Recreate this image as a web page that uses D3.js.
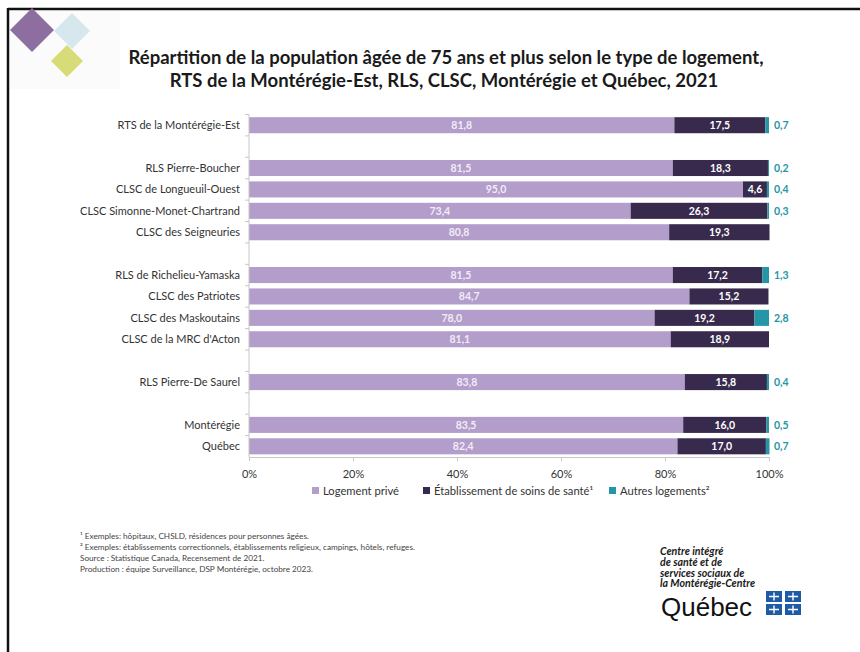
<!DOCTYPE html>
<html>
<head>
<meta charset="utf-8">
<script src="https://cdn.jsdelivr.net/npm/d3@7"></script>
<style>
  body { margin: 0; background: #fff; }
  svg { display: block; font-family: Lato, "Open Sans", sans-serif; }
</style>
</head>
<body>
<svg id="chart" width="860" height="652"></svg>
<script>
// les lignes du graphique (les "gap" sont des rangées vides)
const categories = [
  "RTS de la Montérégie-Est", "gap1",
  "RLS Pierre-Boucher", "CLSC de Longueuil-Ouest", "CLSC Simonne-Monet-Chartrand", "CLSC des Seigneuries", "gap2",
  "RLS de Richelieu-Yamaska", "CLSC des Patriotes", "CLSC des Maskoutains", "CLSC de la MRC d'Acton", "gap3",
  "RLS Pierre-De Saurel", "gap4",
  "Montérégie", "Québec"
]
const rows = categories.filter(c => !c.startsWith("gap"))

const logementPrive   = [81.8, 81.5, 95.0, 73.4, 80.8, 81.5, 84.7, 78.0, 81.1, 83.8, 83.5, 82.4]
const etablissement   = [17.5, 18.3, 4.6, 26.3, 19.3, 17.2, 15.2, 19.2, 18.9, 15.8, 16.0, 17.0]
const autresLogements = [0.7, 0.2, 0.4, 0.3, 0, 1.3, 0, 2.8, 0, 0.4, 0.5, 0.7]

const xTicks = [0, 20, 40, 60, 80, 100]
const seriesNames = ["Logement privé", "Établissement de soins de santé¹", "Autres logements²"]
const colors = ["#b39dca", "#382a4c", "#2596a6"]

const footnotes = [
  "¹ Exemples: hôpitaux, CHSLD, résidences pour personnes âgées.",
  "² Exemples: établissements correctionnels, établissements religieux, campings, hôtels, refuges.",
  "Source : Statistique Canada, Recensement de 2021.",
  "Production : équipe Surveillance, DSP Montérégie, octobre 2023."
]

const fmt = v => d3.format(".1f")(v).replace(".", ",")

const svg = d3.select("#chart")

// cadre noir (gauche et haut)
svg.append("line").attr("x1", 8).attr("x2", 860).attr("y1", 9).attr("y2", 9)
  .attr("stroke", "#111").attr("stroke-width", 2.5)
svg.append("line").attr("x1", 8).attr("x2", 8).attr("y1", 8).attr("y2", 652)
  .attr("stroke", "#111").attr("stroke-width", 2.5)

// petit logo en losanges
const logo = svg.append("g")
logo.append("rect").attr("x", 10).attr("y", 11).attr("width", 110).attr("height", 78).attr("fill", "#fbfbfb")
const diamonds = [
  { x: 72, y: 31, r: 18, c: "#d7e7ee" },
  { x: 32, y: 30, r: 22, c: "#8d6f9f" },
  { x: 67, y: 61, r: 16, c: "#d8dc78" }
]
logo.selectAll("path").data(diamonds).join("path")
  .attr("d", d => `M${d.x},${d.y - d.r}L${d.x + d.r},${d.y}L${d.x},${d.y + d.r}L${d.x - d.r},${d.y}Z`)
  .attr("fill", d => d.c)

// TITRE
const titre = svg.append("text").attr("text-anchor", "middle").attr("font-weight", "bold")
  .attr("font-size", "18.5px").attr("fill", "#1a1a1a")
titre.append("tspan").attr("x", 446).attr("y", 64)
  .text("Répartition de la population âgée de 75 ans et plus selon le type de logement,")
titre.append("tspan").attr("x", 444).attr("y", 87)
  .text("RTS de la Montérégie-Est, RLS, CLSC, Montérégie et Québec, 2021")

// échelles
const xScale = d3.scaleLinear().domain([0, 100]).range([249, 769])
const yScale = d3.scaleBand().domain(categories).range([114.5, 457]).paddingInner(0.25).paddingOuter(0.125)

const table = rows.map((r, i) => ({
  cat: r, prive: logementPrive[i], soins: etablissement[i], autres: autresLogements[i]
}))
const stacked = d3.stack().keys(["prive", "soins", "autres"])(table)

// BARRES
svg.append("g").selectAll("g")
  .data(stacked)
  .join("g")
  .attr("fill", (d, i) => colors[i])
  .selectAll("rect")
  .data(d => d)
  .join("rect")
  .attr("x", d => xScale(d[0]))
  .attr("y", d => yScale(d.data.cat))
  .attr("width", d => xScale(d[1]) - xScale(d[0]))
  .attr("height", yScale.bandwidth())

// étiquettes dans les barres
const labels = svg.append("g").attr("font-size", "10.5px").attr("font-weight", "bold")
labels.selectAll("text.in")
  .data(stacked.slice(0, 2).flatMap((s, i) => s.map(d => ({ d, i }))))
  .join("text")
  .attr("x", o => (xScale(o.d[0]) + xScale(o.d[1])) / 2)
  .attr("y", o => yScale(o.d.data.cat) + yScale.bandwidth() / 2)
  .attr("dy", "0.35em")
  .attr("text-anchor", "middle")
  .attr("fill", o => o.i === 0 ? "#f1ecf6" : "#ffffff")
  .text(o => fmt(o.d[1] - o.d[0]))

labels.selectAll("text.out")
  .data(table.filter(d => d.autres > 0))
  .join("text")
  .attr("x", xScale(100) + 5)
  .attr("y", d => yScale(d.cat) + yScale.bandwidth() / 2)
  .attr("dy", "0.35em")
  .attr("fill", colors[2])
  .text(d => fmt(d.autres))

// AXE Y
const axisColor = "#c8c8c8"
svg.append("line").attr("x1", xScale(0)).attr("x2", xScale(0))
  .attr("y1", yScale.range()[0]).attr("y2", yScale.range()[1]).attr("stroke", axisColor)
svg.append("g").selectAll("line")
  .data(categories)
  .join("line")
  .attr("x1", xScale(0) - 4).attr("x2", xScale(0))
  .attr("y1", d => yScale(d) - yScale.step() * 0.125)
  .attr("y2", d => yScale(d) - yScale.step() * 0.125)
  .attr("stroke", axisColor)

svg.append("g").attr("font-size", "11px").attr("fill", "#333")
  .selectAll("text")
  .data(rows)
  .join("text")
  .attr("x", 240)
  .attr("y", d => yScale(d) + yScale.bandwidth() / 2)
  .attr("dy", "0.35em")
  .attr("text-anchor", "end")
  .text(d => d)

// AXE X
const axisBottom = d3.axisBottom(xScale).tickValues(xTicks).tickFormat(d => d + "%").tickSize(4).tickSizeOuter(0)
const gx = svg.append("g").attr("transform", `translate(0,${yScale.range()[1]})`).call(axisBottom)
gx.select(".domain").attr("stroke", axisColor)
gx.selectAll(".tick line").attr("stroke", axisColor)
gx.selectAll(".tick text").attr("font-size", "11px").attr("fill", "#333").attr("dy", "1.3em")
  .attr("font-family", "Lato, sans-serif")

// LÉGENDE
const legendX = [312, 423, 609]
const legend = svg.append("g").selectAll("g")
  .data(seriesNames)
  .join("g")
  .attr("transform", (d, i) => `translate(${legendX[i]},491)`)
legend.append("rect").attr("x", 0).attr("y", -4).attr("width", 7).attr("height", 7)
  .attr("fill", (d, i) => colors[i])
legend.append("text").attr("x", 11).attr("dy", "0.35em").attr("font-size", "11.2px").attr("fill", "#333")
  .text(d => d)

// NOTES
svg.append("g").attr("font-size", "8.2px").attr("fill", "#444")
  .selectAll("text")
  .data(footnotes)
  .join("text")
  .attr("x", 80)
  .attr("y", (d, i) => 539 + i * 11)
  .text(d => d)

// logo CISSS / Québec
const orgLines = ["Centre intégré", "de santé et de", "services sociaux de", "la Montérégie-Centre"]
svg.append("text").attr("font-size", "10.6px").attr("font-weight", "bold")
  .attr("font-style", "italic").attr("fill", "#1a1a1a")
  .selectAll("tspan").data(orgLines).join("tspan")
  .attr("x", 660).attr("y", (d, i) => 555 + i * 10.8).text(d => d)
svg.append("text").attr("x", 661).attr("y", 616).attr("font-size", "26px")
  .attr("font-family", "Arial, 'Liberation Sans', sans-serif").attr("fill", "#111").text("Québec")
const flags = [[766, 591], [785, 591], [766, 604], [785, 604]]
const fg = svg.append("g").selectAll("g").data(flags).join("g")
  .attr("transform", d => `translate(${d[0]},${d[1]})`)
fg.append("rect").attr("width", 16).attr("height", 11).attr("fill", "#1f5aa6")
fg.append("path").attr("d", "M8,1.5V9.5M3,5.5H13").attr("stroke", "#fff").attr("stroke-width", 1.4)
</script>
</body>
</html>
